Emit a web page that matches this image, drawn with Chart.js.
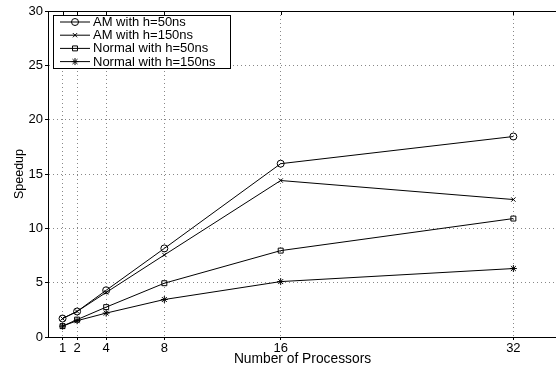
<!DOCTYPE html>
<html>
<head>
<meta charset="utf-8">
<script src="https://cdn.jsdelivr.net/npm/chart.js@4.4.1/dist/chart.umd.min.js"></script>
<style>
    html, body { margin: 0; padding: 0; background: #fff; overflow: hidden; }
    #wrap { width: 562px; height: 366px; }
</style>
</head>
<body>
<div id="wrap"><canvas id="speedupChart"></canvas></div>
<script>
// Speedup vs number of processors
const processors = [1, 2, 4, 8, 16, 32];
const yTickValues = [0, 5, 10, 15, 20, 25, 30];

const amH50 = [1.7, 2.35, 4.3, 8.15, 15.95, 18.45];
const amH150 = [1.7, 2.35, 4.1, 7.55, 14.4, 12.65];
const normalH50 = [1.0, 1.6, 2.75, 4.95, 7.95, 10.9];
const normalH150 = [1.0, 1.5, 2.2, 3.45, 5.1, 6.3];

const seriesLabels = ['AM with h=50ns', 'AM with h=150ns', 'Normal with h=50ns', 'Normal with h=150ns'];
const seriesValues = [amH50, amH150, normalH50, normalH150];
const seriesMarkers = ['circle', 'crossRot', 'rect', 'star'];
const markerSizes = [3.5, 3, 3.5, 3.5];

const FONT = "'Liberation Sans', Arial, Helvetica, sans-serif";

function toPoints(values) {
    return processors.map((p, i) => ({ x: p, y: values[i] }));
}

// frame top line, inward top ticks and the boxed legend
const framePlugin = {
    id: 'frameAndLegend',
    afterDraw(chart) {
        const ctx = chart.ctx;
        const area = chart.chartArea;
        const xScale = chart.scales.x;
        ctx.save();
        ctx.strokeStyle = '#000';
        ctx.lineWidth = 1;
        ctx.beginPath();
        ctx.moveTo(area.left, area.top + 0.5);
        ctx.lineTo(area.right, area.top + 0.5);
        processors.forEach(p => {
            const px = Math.round(xScale.getPixelForValue(p)) + 0.5;
            ctx.moveTo(px, area.top);
            ctx.lineTo(px, area.top + 4);
        });
        ctx.stroke();

        // legend
        const bx = 53.5, by = 15.5, bw = 177, bh = 53;
        ctx.fillStyle = '#fff';
        ctx.fillRect(bx, by, bw, bh);
        ctx.strokeRect(bx, by, bw, bh);
        ctx.font = '13px ' + FONT;
        ctx.textBaseline = 'middle';
        ctx.textAlign = 'left';
        seriesLabels.forEach((label, i) => {
            const ry = 22 + i * 13.2;
            ctx.beginPath();
            ctx.moveTo(60, ry);
            ctx.lineTo(90, ry);
            ctx.stroke();
            ctx.fillStyle = 'rgba(0,0,0,0)';
            Chart.helpers.drawPoint(ctx, {
                pointStyle: seriesMarkers[i],
                radius: markerSizes[i],
                borderWidth: 1
            }, 75, ry);
            ctx.fillStyle = '#000';
            ctx.fillText(label, 93, ry + 0.5);
        });
        ctx.restore();
    }
};

document.addEventListener('DOMContentLoaded', function() {
    const ctx = document.getElementById('speedupChart');
    new Chart(ctx, {
        type: 'line',
        data: {
            datasets: seriesLabels.map((label, i) => ({
                label: label,
                data: toPoints(seriesValues[i]),
                borderColor: '#000',
                borderWidth: 1,
                backgroundColor: 'rgba(0,0,0,0)',
                pointStyle: seriesMarkers[i],
                pointRadius: markerSizes[i],
                pointBorderColor: '#000',
                pointBorderWidth: 1,
                pointBackgroundColor: 'rgba(0,0,0,0)',
                tension: 0,
                fill: false
            }))
        },
        options: {
            responsive: true,
            maintainAspectRatio: false,
            animation: false,
            layout: {
                padding: { top: 11, right: 0, left: 0, bottom: 0 }
            },
            plugins: {
                legend: { display: false },
                tooltip: { enabled: false }
            },
            scales: {
                x: {
                    type: 'linear',
                    min: 0,
                    max: 35,
                    afterBuildTicks: function(scale) {
                        scale.ticks = processors.map(v => ({ value: v }));
                    },
                    afterFit: function(scale) {
                        scale.height = 29;
                    },
                    ticks: {
                        color: '#000',
                        padding: 1,
                        autoSkip: false,
                        maxRotation: 0,
                        font: { family: FONT, size: 13 }
                    },
                    grid: {
                        color: '#888',
                        lineWidth: 1,
                        tickLength: 3,
                        tickColor: '#000'
                    },
                    border: {
                        display: true,
                        color: '#000',
                        width: 1,
                        dash: [1, 3]
                    },
                    title: {
                        display: true,
                        text: 'Number of Processors',
                        color: '#000',
                        padding: { top: 0, bottom: 0 },
                        font: { family: FONT, size: 13.8, lineHeight: 1.0 }
                    }
                },
                y: {
                    min: 0,
                    max: 30,
                    afterBuildTicks: function(scale) {
                        scale.ticks = yTickValues.map(v => ({ value: v }));
                    },
                    afterFit: function(scale) {
                        scale.width = 48;
                    },
                    ticks: {
                        color: '#000',
                        padding: 2,
                        font: { family: FONT, size: 13 }
                    },
                    grid: {
                        color: '#888',
                        lineWidth: 1,
                        tickLength: 3,
                        tickColor: '#000'
                    },
                    border: {
                        display: true,
                        color: '#000',
                        width: 1,
                        dash: [1, 3]
                    },
                    title: {
                        display: true,
                        text: 'Speedup',
                        color: '#000',
                        padding: { top: 12, bottom: 0 },
                        font: { family: FONT, size: 12.5, lineHeight: 1.2 }
                    }
                }
            }
        },
        plugins: [framePlugin]
    });
});
</script>
</body>
</html>
